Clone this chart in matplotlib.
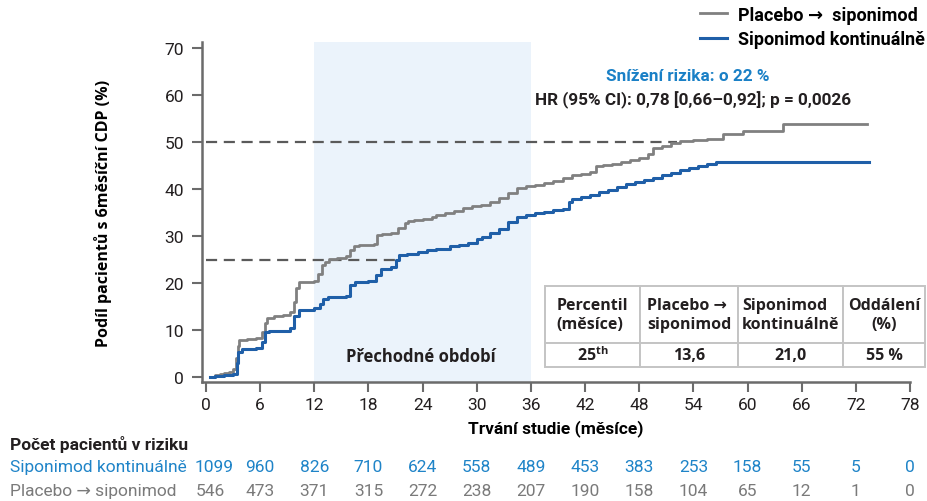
import matplotlib
matplotlib.use("Agg")
import matplotlib.pyplot as plt
import matplotlib.transforms as mtransforms
from matplotlib.font_manager import FontProperties

plt.rcParams['font.family'] = ['Roboto', 'DejaVu Sans']
plt.rcParams['mathtext.fontset'] = 'custom'
plt.rcParams['mathtext.bf'] = 'Open Sans:bold'
plt.rcParams['mathtext.rm'] = 'Open Sans'

# Kaplan-Meier curves (months, % patients with 6-month CDP)
placebo_t = [0.5, 1.0, 1.5, 2.0, 2.6, 3.0, 3.3, 3.5, 3.7, 4.5, 5.5, 6.2, 6.5, 6.8,
             7.5, 8.5, 9.3, 9.7, 10.0, 10.3, 12.0, 12.4, 12.8, 13.2, 13.6, 14.5,
             15.5, 16.0, 16.4, 17.0, 18.6, 19.0, 19.5, 20.5, 21.3, 22.0, 22.4,
             23.0, 24.0, 25.0, 25.5, 26.5, 27.5, 28.5, 29.5, 30.5, 31.5, 32.5,
             33.5, 34.5, 35.5, 36.5, 37.5, 38.5, 39.5, 40.5, 41.5, 42.5, 43.2,
             44.0, 45.0, 46.0, 47.0, 48.0, 49.0, 49.5, 50.5, 51.5, 52.5, 54.0,
             55.5, 57.3, 59.5, 63.9, 73.2]
placebo_v = [0.0, 0.4, 0.6, 0.8, 1.0, 1.6, 4.0, 6.5, 7.8, 8.0, 8.2, 9.5, 11.5, 12.6,
             12.9, 13.2, 13.8, 16.0, 19.0, 20.2, 20.5, 22.0, 23.8, 24.5, 25.1, 25.4,
             25.8, 27.0, 27.8, 28.0, 28.4, 30.2, 30.5, 30.7, 31.8, 32.8, 33.2,
             33.4, 33.6, 34.0, 34.5, 34.9, 35.4, 35.9, 36.3, 36.7, 37.3, 38.2,
             39.2, 40.2, 40.6, 40.8, 41.2, 41.8, 42.4, 42.9, 43.3, 43.7, 44.8,
             45.1, 45.4, 45.8, 46.2, 46.6, 47.5, 48.8, 49.2, 49.8, 50.2, 50.5,
             50.7, 51.7, 52.3, 53.8, 53.8]

sipon_t = [0.5, 1.0, 2.0, 3.0, 3.4, 3.6, 4.0, 5.5, 6.2, 6.5, 7.0, 9.3, 9.8, 10.3,
           12.0, 12.6, 13.0, 13.5, 15.5, 16.0, 16.5, 18.0, 18.8, 19.4, 20.5, 21.0,
           21.4, 22.3, 23.5, 24.5, 25.5, 27.0, 28.0, 29.0, 30.0, 30.6, 31.5, 32.5,
           33.5, 34.5, 35.5, 36.5, 37.5, 38.5, 39.6, 40.2, 40.6, 41.5, 42.5, 43.5,
           44.5, 45.5, 46.5, 47.5, 48.5, 49.5, 50.5, 51.5, 52.5, 53.5, 54.5, 55.5,
           56.5, 73.5]
sipon_v = [0.0, 0.2, 0.4, 0.6, 3.0, 5.3, 6.0, 6.2, 7.5, 9.6, 9.8, 10.5, 13.0, 14.3,
           14.6, 15.5, 16.6, 17.0, 17.3, 19.5, 20.2, 20.5, 21.8, 23.0, 23.4, 25.0,
           26.0, 26.2, 26.6, 27.0, 27.3, 27.8, 28.0, 28.6, 29.4, 29.8, 30.6, 31.6,
           33.0, 34.0, 34.4, 34.8, 35.2, 35.5, 35.7, 37.2, 37.9, 38.3, 38.8, 39.4,
           39.9, 40.4, 41.0, 41.5, 41.9, 42.4, 43.0, 43.5, 44.0, 44.5, 44.9, 45.3,
           45.7, 45.7]

months = [0, 6, 12, 18, 24, 30, 36, 42, 48, 54, 60, 66, 72, 78]
risk_sipon = [1099, 960, 826, 710, 624, 558, 489, 453, 383, 253, 158, 55, 5, 0]
risk_placebo = [546, 473, 371, 315, 272, 238, 207, 190, 158, 104, 65, 12, 1, 0]

median_sipon = 21.0
median_line_end = 52.2

table_rows = [["Percentil\n(měsíce)", "Placebo \u2192\nsiponimod", "Siponimod\nkontinuálně", "Oddálení\n(%)"],
              [r"$\mathbf{25^{th}}$", "13,6", "21,0", "55 %"]]

GREY = '#808080'
BLUE = '#1f5fa8'
RISK_BLUE = '#1f84c8'
RISK_GREY = '#7a7a7a'
SPINE = '#6b6b6b'
WIDE = ['Open Sans', 'DejaVu Sans']

fig = plt.figure(figsize=(9.27, 5.02), dpi=100)
ax = fig.add_axes([0.2179, 0.2371, 0.7638, 0.6773])

ax.axvspan(12, 36, color='#ebf3fb', zorder=0, lw=0)

ax.plot([0, median_line_end], [50, 50], ls=(0, (5, 3)), color='#5a5a5a', lw=1.6, zorder=1)
ax.plot([0, median_sipon], [25, 25], ls=(0, (5, 3)), color='#5a5a5a', lw=1.6, zorder=1)

ax.step(placebo_t, placebo_v, where='post', color=GREY, lw=2.0, zorder=3,
        label='Placebo \u2192  siponimod')
ax.step(sipon_t, sipon_v, where='post', color=BLUE, lw=2.2, zorder=4,
        label='Siponimod kontinuálně')

ax.set_xlim(-0.44, 78)
ax.set_ylim(-1.06, 71.3)
ax.set_xticks(months)
ax.set_yticks(range(0, 71, 10))
ax.tick_params(axis='both', direction='out', length=7, width=1.5, color=SPINE,
               labelsize=12.5, labelcolor='#231f20')
ax.tick_params(axis='y', pad=6)
ax.tick_params(axis='x', pad=4)
for side in ('top', 'right'):
    ax.spines[side].set_visible(False)
for side in ('left', 'bottom'):
    ax.spines[side].set_color(SPINE)
    ax.spines[side].set_linewidth(1.8)

ax.set_ylabel('Podíl pacientů s 6měsíční CDP (%)', family=WIDE,
              fontweight='bold', fontsize=11.5, labelpad=38)
ax.set_xlabel('Trvání studie (měsíce)', fontweight='bold', fontsize=12.5, labelpad=5)

ax.text(23.8, 4.5, 'Přechodné období', family=WIDE, fontweight='bold',
        fontsize=12, ha='center', va='center', color='#231f20')

ax.text(53.4, 64.2, 'Snížení rizika: o 22 %', color='#1a80c6', fontweight='bold',
        fontsize=12.3, ha='center', va='center')
ax.text(54.0, 59.2, 'HR (95% CI): 0,78 [0,66\u20130,92]; p = 0,0026', color='#231f20',
        fontweight='bold', fontsize=12.3, ha='center', va='center')

leg = ax.legend(loc='upper left', bbox_to_anchor=(0.755, 0.987), bbox_transform=fig.transFigure,
                frameon=False, handlelength=1.5, handletextpad=0.6, labelspacing=0.35,
                borderpad=0, borderaxespad=0,
                prop={'family': ['Roboto', 'DejaVu Sans'], 'weight': 'bold', 'size': 13})

# percentile table
tbl = ax.table(cellText=table_rows, cellLoc='center',
               bbox=[0.4845, 0.044, 0.5367, 0.238], zorder=6)
tbl.auto_set_font_size(False)
col_w = [95, 98, 105, 82]
row_h = [57, 24]
for (r, c), cell in tbl.get_celld().items():
    cell.set_width(col_w[c])
    cell.set_height(row_h[r])
    cell.set_edgecolor('#c4c4c4')
    cell.set_linewidth(1.4)
    cell.set_facecolor('white')
    txt = cell.get_text()
    txt.set_fontproperties(FontProperties(family=WIDE, weight='bold', size=11.5))
    txt.set_color('#231f20')
    if r == 0 and c < 3:
        txt.set_multialignment('left')

# numbers at risk
trans = mtransforms.blended_transform_factory(ax.transData, fig.transFigure)
fig.text(10 / 927, 1 - 445 / 502, 'Počet pacientů v riziku', fontweight='bold',
         fontsize=12.5, va='center', ha='left', color='#231f20')
fig.text(10 / 927, 1 - 468 / 502, 'Siponimod kontinuálně', fontsize=12.5,
         va='center', ha='left', color=RISK_BLUE)
fig.text(10 / 927, 1 - 492 / 502, 'Placebo \u2192 siponimod', fontsize=12.5,
         va='center', ha='left', color=RISK_GREY)
for m, ns, npl in zip(months, risk_sipon, risk_placebo):
    ax.text(m + (0.9 if m == 0 else 0), 1 - 468 / 502, str(ns), transform=trans,
            fontsize=12.5, ha='center', va='center', color=RISK_BLUE, clip_on=False)
    ax.text(m + (0.5 if m == 0 else 0), 1 - 492 / 502, str(npl), transform=trans,
            fontsize=12.5, ha='center', va='center', color=RISK_GREY, clip_on=False)

fig.savefig('out.png', dpi=100)
